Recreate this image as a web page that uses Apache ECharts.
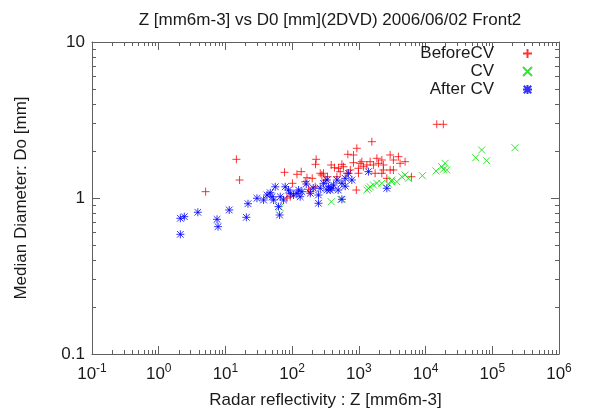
<!DOCTYPE html>
<html>
<head>
<meta charset="utf-8">
<script src="https://cdn.jsdelivr.net/npm/echarts@6/dist/echarts.min.js"></script>
<style>
html, body { margin: 0; padding: 0; background: #fff; }
#chart { width: 597px; height: 413px; }
</style>
</head>
<body>
<div id="chart"></div>
<script>
// values: Z [mm6m-3], D0 [mm]
var beforeZ = [5.05, 14.6, 16.3, 76.9, 101, 118, 137, 167, 176, 200, 224, 229, 264, 295, 339, 385, 431, 495, 557, 684,
    830, 933, 1566, 830, 1045, 1172, 1318, 1477, 1656, 1862, 2209, 1968, 2333, 2625, 2944, 3296, 3917, 4150, 4932, 916,
    665, 746, 986, 157, 93.7, 187, 222, 279, 313, 469, 525, 14720, 18450, 3296, 588, 1107, 2333, 986, 2944, 2209,
    6138, 1754, 83.6];
var beforeD = [1.098, 1.77, 1.304, 1.461, 1.242, 1.419, 1.475, 1.349, 1.137, 1.337, 1.644, 1.77, 1.44, 1.44, 1.369, 1.628, 1.564, 1.55, 1.644, 1.906,
    1.887, 2.083, 2.296, 1.684, 1.668, 1.587, 1.628, 1.709, 1.628, 1.797, 1.752, 1.668, 1.512, 1.337, 1.887, 1.512, 1.84, 1.668, 1.709, 1.125,
    1.44, 1.512, 1.44, 1.272, 1.019, 1.098, 1.18, 1.404, 1.304, 1.369, 1.475, 2.968, 2.968, 1.752, 1.587, 1.709, 1.628, 1.55, 1.512, 1.44,
    1.369, 1.44, 1.0];

var cvZ = [64.8, 385, 538, 1318, 1477, 1862, 2209, 3120, 3707, 4406, 4932, 5534, 1393, 1656, 2780, 3120, 8950, 14350,
    17500, 19600, 20770, 18500, 56400, 69300, 82400, 218800];
var cvD = [0.872, 0.947, 0.981, 1.125, 1.18, 1.242, 1.242, 1.272, 1.272, 1.369, 1.404, 1.337, 1.154, 1.211, 1.229, 1.304, 1.39, 1.49,
    1.587, 1.668, 1.512, 1.527, 1.812, 2.03, 1.734, 2.10];

var afterZ = [2.11, 2.11, 2.42, 3.86, 7.48, 7.75, 11.4, 20.6, 21.8, 29.7, 37.3, 42.0, 47.0, 49.9, 52.7, 55.8, 66.4, 62.5, 64.8, 74.3,
    78.8, 88.3, 93.6, 105, 118, 125, 132, 140, 163, 187, 248, 248, 264, 295, 332, 351, 372, 417, 469, 557,
    624, 699, 785, 557, 1392, 2625, 394, 332, 207, 490, 624];
var afterD = [0.585, 0.741, 0.759, 0.810, 0.730, 0.655, 0.838, 0.752, 0.919, 0.996, 0.971, 1.045, 1.081, 1.019, 0.971, 1.18, 1.019, 0.880, 0.778, 0.971,
    1.18, 1.125, 1.072, 1.045, 1.072, 1.125, 1.019, 1.098, 1.23, 1.072, 1.045, 0.925, 1.154, 1.242, 1.304, 1.18, 1.125, 1.211, 1.304, 1.242,
    1.337, 1.44, 1.304, 0.981, 1.475, 1.154, 1.154, 1.125, 1.159, 1.125, 1.19];

var xMajor = [0.1, 1, 10, 100, 1000, 10000, 100000, 1000000];
var yMajor = [0.1, 1, 10];

var FONT = 'Liberation Sans';
var TXT = '#1a1a1a';
var BORDER = '#5f5f5f';
var FS = 17;

// minor log ticks 2..9 in each decade
function minors(lo, hi) {
    var out = [];
    for (var d = lo; d < hi; d++) {
        for (var m = 2; m < 10; m++) out.push(+(m * Math.pow(10, d)).toPrecision(3));
    }
    return out;
}
var xMinor = minors(-1, 6);
var yMinor = minors(-1, 1);

function zip(a, b) {
    var out = [];
    for (var i = 0; i < a.length; i++) out.push([a[i], b[i]]);
    return out;
}

function axis(dim, pos, major, withLine, withLabel, tickVals, tickLen) {
    var a = {
        type: 'log',
        logBase: 10,
        position: pos,
        min: 0.1,
        max: dim == 'x' ? 1000000 : 10,
        axisLine: { show: withLine, lineStyle: { color: BORDER, width: 1 } },
        axisTick: { show: true, inside: true, length: tickLen, customValues: tickVals, lineStyle: { color: BORDER, width: 1 } },
        axisLabel: { show: false },
        splitLine: { show: false },
        minorTick: { show: false }
    };
    if (withLabel) {
        if (dim == 'x') {
            a.axisLabel = {
                show: true,
                customValues: major,
                margin: 9,
                formatter: function (v) {
                    var e = Math.round(Math.log(v) / Math.LN10);
                    return '{b|10}{s|' + e + '}';
                },
                rich: {
                    b: { fontSize: FS, fontFamily: FONT, color: TXT },
                    s: { fontSize: 12, fontFamily: FONT, color: TXT, verticalAlign: 'bottom', padding: [0, 0, 10, 0] }
                }
            };
            a.name = 'Radar reflectivity : Z [mm6m-3]';
            a.nameLocation = 'middle';
            a.nameGap = 38;
        } else {
            a.axisLabel = {
                show: true,
                customValues: major,
                margin: 7,
                fontSize: FS,
                fontFamily: FONT,
                color: TXT,
                formatter: function (v) { return String(v); }
            };
            a.name = 'Median Diameter: Do [mm]';
            a.nameLocation = 'middle';
            a.nameGap = 62;
        }
        a.nameTextStyle = { fontSize: FS, fontFamily: FONT, color: TXT };
    }
    return a;
}

function legendFor(name, top) {
    return {
        data: [name],
        orient: 'vertical',
        align: 'right',
        right: 64,
        top: top,
        padding: 0,
        itemWidth: 9,
        itemHeight: 9,
        selectedMode: false,
        textStyle: { fontSize: FS, fontFamily: FONT, color: TXT, padding: [0, 24, 0, 0] }
    };
}

var chart = echarts.init(document.getElementById('chart'));
chart.setOption({
    animation: false,
    backgroundColor: '#fff',
    title: {
        text: 'Z [mm6m-3] vs D0 [mm](2DVD) 2006/06/02 Front2',
        left: 325,
        textAlign: 'center',
        top: 7,
        textStyle: { fontSize: FS, fontWeight: 'normal', fontFamily: FONT, color: TXT }
    },
    legend: [
        legendFor('BeforeCV', 45),
        legendFor('CV', 63),
        legendFor('After CV', 81)
    ],
    grid: { left: 92, right: 38, top: 42, bottom: 59, outerBoundsMode: 'none' },
    xAxis: [
        axis('x', 'bottom', xMajor, true, true, xMajor, 8),
        axis('x', 'bottom', xMajor, false, false, xMinor, 4),
        axis('x', 'top', xMajor, true, false, xMajor, 8),
        axis('x', 'top', xMajor, false, false, xMinor, 4)
    ],
    yAxis: [
        axis('y', 'left', yMajor, true, true, yMajor, 8),
        axis('y', 'left', yMajor, false, false, yMinor, 4),
        axis('y', 'right', yMajor, true, false, yMajor, 8),
        axis('y', 'right', yMajor, false, false, yMinor, 4)
    ],
    series: [
        {
            name: 'BeforeCV',
            type: 'scatter',
            symbol: 'path://M0,5L10,5M5,0L5,10',
            symbolSize: 8,
            itemStyle: { color: 'rgba(0,0,0,0)', borderColor: '#ff0000', borderWidth: 1 },
            data: zip(beforeZ, beforeD)
        },
        {
            name: 'CV',
            type: 'scatter',
            symbol: 'path://M0,0L10,10M10,0L0,10',
            symbolSize: 7,
            itemStyle: { color: 'rgba(0,0,0,0)', borderColor: '#00e000', borderWidth: 1 },
            data: zip(cvZ, cvD)
        },
        {
            name: 'After CV',
            type: 'scatter',
            symbol: 'path://M0,0L10,10M10,0L0,10M5,-1L5,11M-1,5L11,5',
            symbolSize: 8,
            itemStyle: { color: 'rgba(0,0,0,0)', borderColor: '#0000ff', borderWidth: 1 },
            data: zip(afterZ, afterD)
        }
    ]
});
</script>
</body>
</html>
